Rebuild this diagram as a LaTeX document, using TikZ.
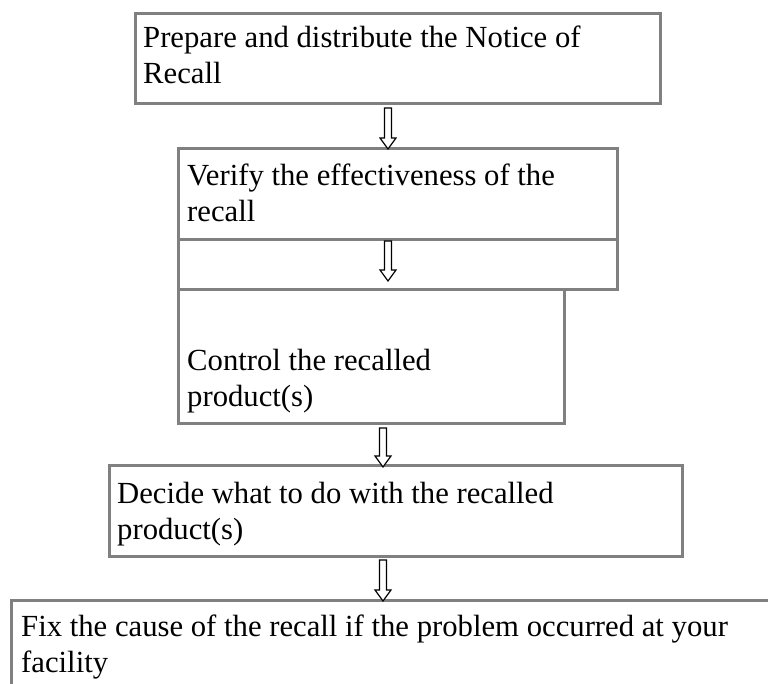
\documentclass[tikz,border=0pt]{standalone}
\usepackage{fontspec}
\setmainfont{Liberation Serif}
\definecolor{boxgray}{RGB}{128,128,128}
\newcommand{\hollowarrow}[4]{% name, x, ytop, ytip
  \coordinate (#1s) at (#2,#3);
  \coordinate (#1e) at (#2,#4);
  \draw[blockarrow] (#2-3.5,#3) -- (#2+3.5,#3) -- (#2+3.5,#4-11) -- (#2+8,#4-11) -- (#1e) -- (#2-8,#4-11) -- (#2-3.5,#4-11) -- cycle;}
\begin{document}
\begin{tikzpicture}[x=1pt,y=-1pt,
  box/.style={draw=boxgray, line width=3pt, rectangle, inner sep=0pt, anchor=north west},
  txt/.style={anchor=north west, inner sep=0pt, align=left, font=\fontsize{30.7}{36}\selectfont},
  blockarrow/.style={draw=black, fill=white, line width=1.2pt, line join=miter}]
\useasboundingbox (0,0) rectangle (768,684);
\clip (0,0) rectangle (768,684);
% boxes
\node[box, minimum width=525pt, minimum height=90pt] (b1) at (134,12) {};
\node[box, minimum width=439pt, minimum height=91pt] (b2) at (177,147) {};
\node[box, minimum width=439pt, minimum height=50pt] (b2b) at (177,238) {};
\node[box, minimum width=386pt, minimum height=134pt] (b3) at (177,288) {};
\node[box, minimum width=573pt, minimum height=91pt] (b4) at (108,464) {};
\node[box, minimum width=800pt, minimum height=150pt] (b5) at (10,599) {};
% texts
\node[txt] (t1) at (143,26) {Prepare and distribute the Notice of\\Recall};
\node[txt] (t2) at (187,164) {Verify the effectiveness of the\\recall};
\node[txt] (t3) at (187,349) {Control the recalled\\product(s)};
\node[txt] (t4) at (117,482) {Decide what to do with the recalled\\product(s)};
\node[txt] (t5) at (21,615) {Fix the cause of the recall if the problem occurred at your\\facility};
% arrows
\hollowarrow{a1}{388}{108}{149}
\hollowarrow{a2}{388}{241}{281}
\hollowarrow{a3}{383}{428}{467}
\hollowarrow{a4}{383}{560}{601}
\end{tikzpicture}
\end{document}
